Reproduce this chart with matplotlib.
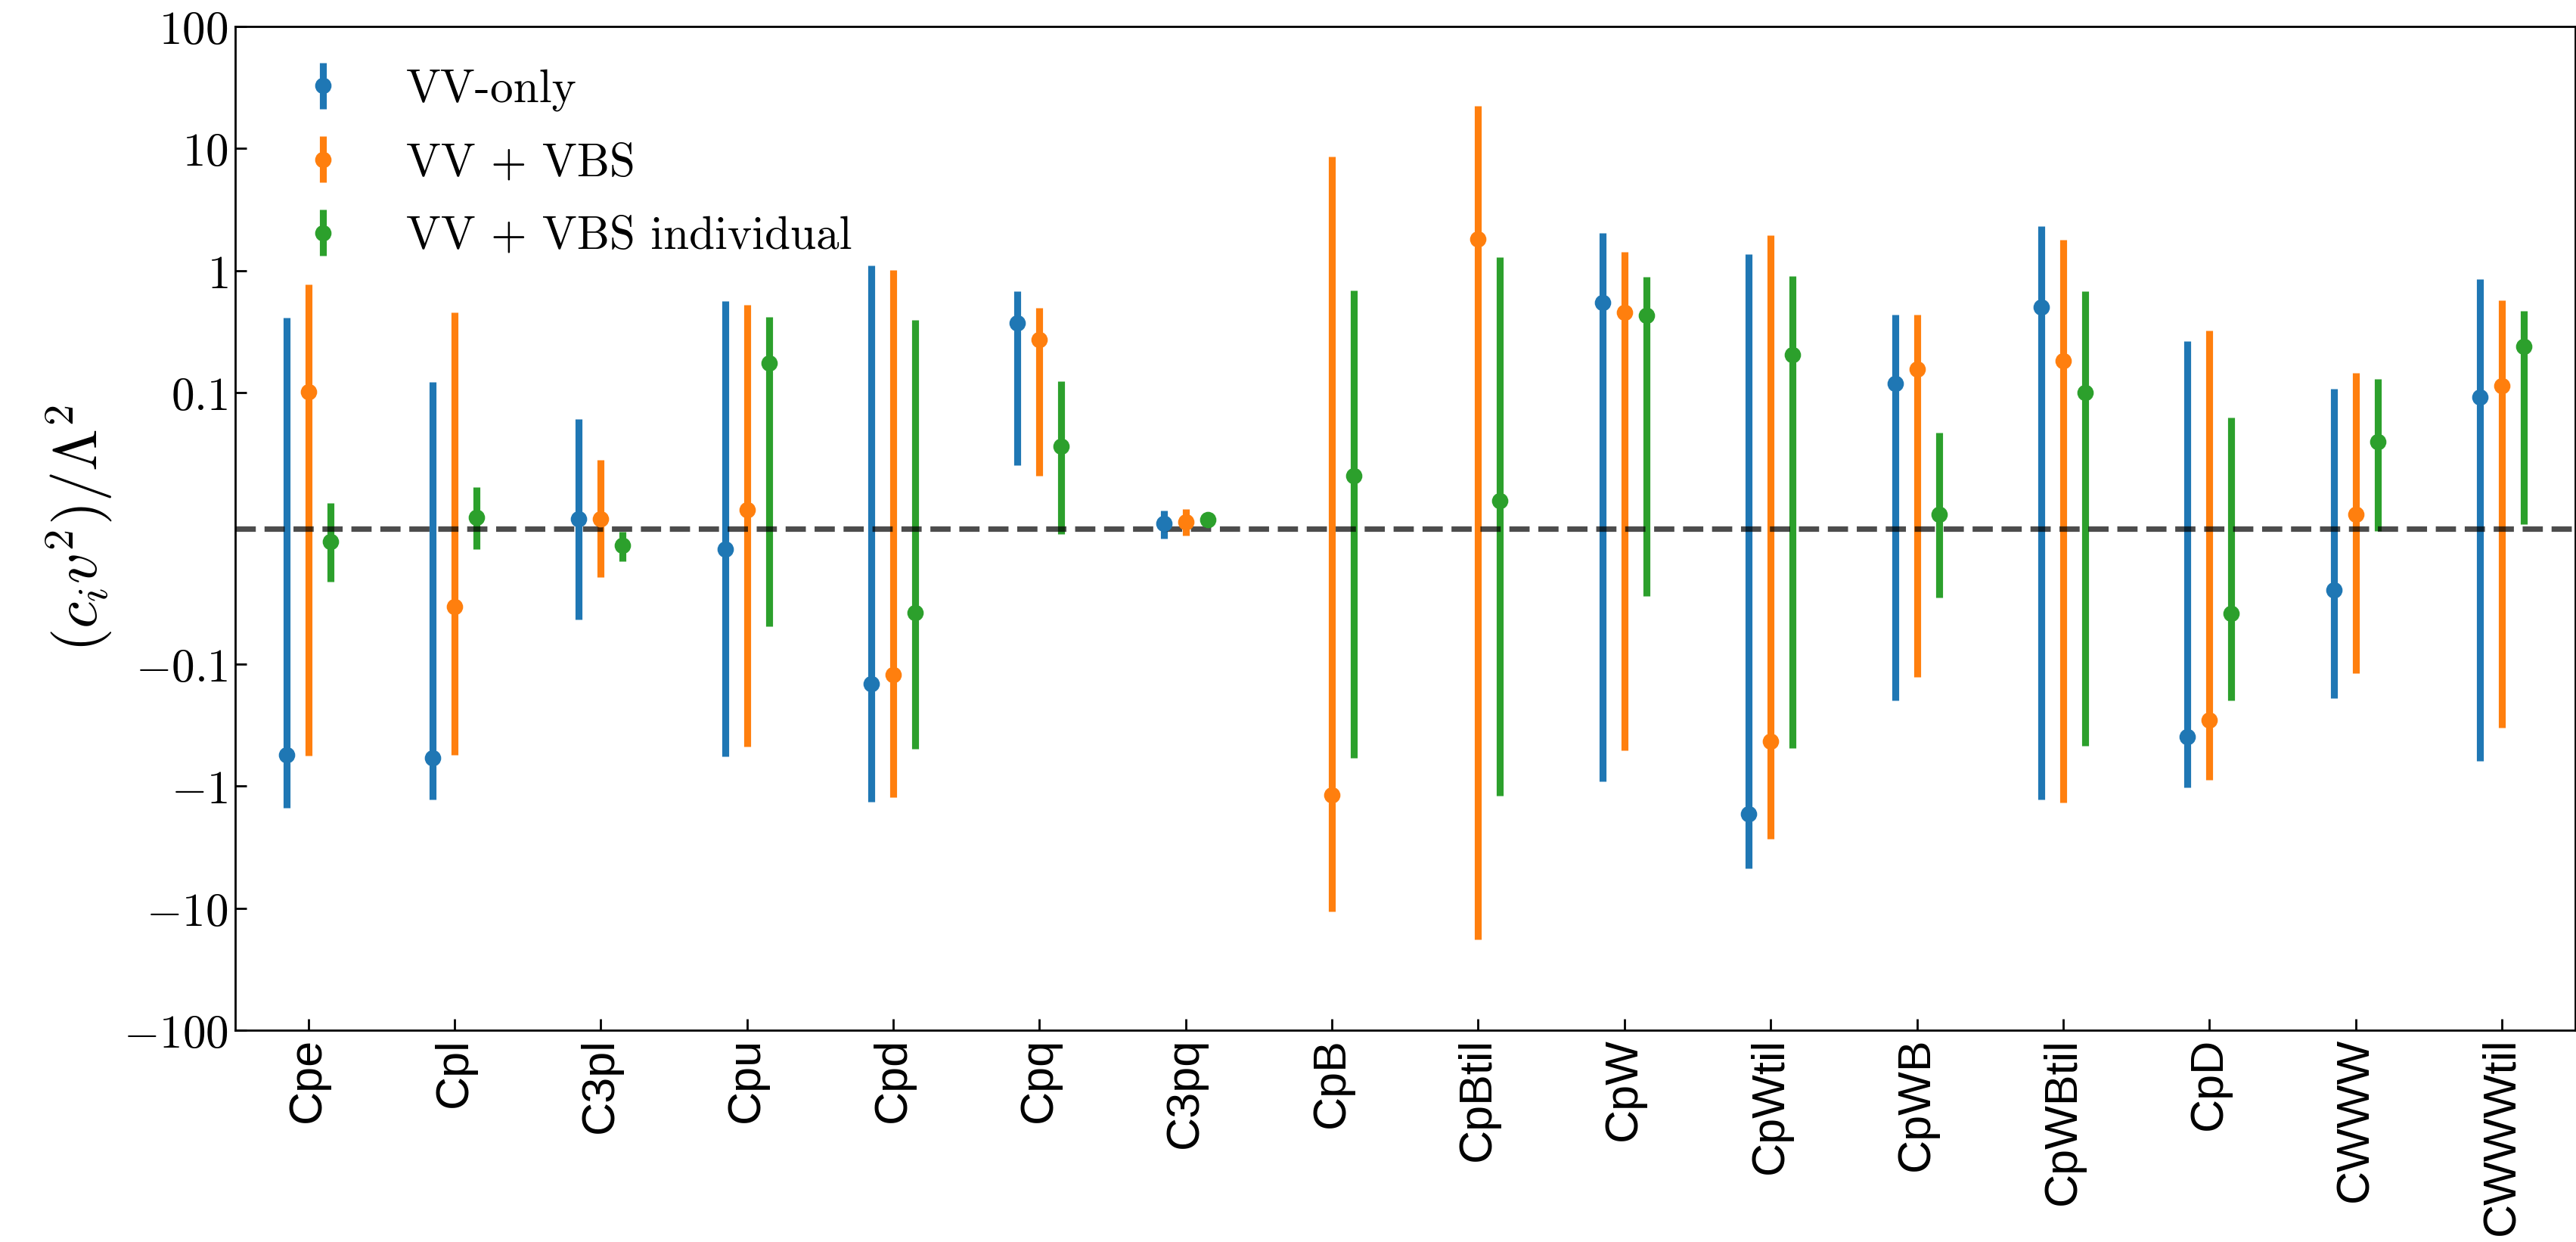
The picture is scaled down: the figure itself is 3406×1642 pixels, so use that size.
import numpy as np
import matplotlib
matplotlib.use("Agg")
import matplotlib.pyplot as plt
from matplotlib.ticker import NullLocator

plt.rcParams['mathtext.fontset'] = 'cm'
plt.rcParams['axes.unicode_minus'] = True

coeffs = ['Cpe', 'Cpl', 'C3pl', 'Cpu', 'Cpd', 'Cpq', 'C3pq', 'CpB', 'CpBtil',
          'CpW', 'CpWtil', 'CpWB', 'CpWBtil', 'CpD', 'CWWW', 'CWWWtil']

# VV-only: central value, lower and upper bound
vv_mid = [-0.552, -0.589, 0.007, -0.0153, -0.146, 0.370, 0.0037, np.nan, np.nan,
          0.549, -1.69, 0.119, 0.502, -0.395, -0.0452, 0.097]
vv_lo = [-1.51, -1.29, -0.0672, -0.572, -1.34, 0.0465, -0.0078, np.nan, np.nan,
         -0.917, -4.69, -0.199, -1.28, -1.03, -0.191, -0.618]
vv_hi = [0.412, 0.123, 0.0807, 0.563, 1.107, 0.682, 0.0131, np.nan, np.nan,
         2.04, 1.36, 0.436, 2.32, 0.266, 0.107, 0.847]

# VV + VBS
vbs_mid = [0.102, -0.0579, 0.007, 0.0136, -0.1225, 0.272, 0.0046, -1.18, 1.82,
           0.453, -0.427, 0.157, 0.183, -0.288, 0.0101, 0.1145]
vbs_lo = [-0.562, -0.557, -0.036, -0.473, -1.23, 0.039, -0.0053, -10.7, -18.1,
          -0.511, -2.71, -0.127, -1.36, -0.883, -0.119, -0.331]
vbs_hi = [0.766, 0.452, 0.0504, 0.522, 1.012, 0.496, 0.0141, 8.61, 22.4,
          1.43, 1.94, 0.436, 1.80, 0.321, 0.146, 0.571]

# VV + VBS individual
ind_mid = [-0.00965, 0.00787, -0.0128, 0.174, -0.0621, 0.0604, 0.0066, 0.0385, 0.0206,
           0.431, 0.206, 0.0101, 0.1007, -0.0626, 0.064, 0.240]
ind_lo = [-0.0393, -0.0153, -0.0242, -0.0721, -0.497, -0.0039, 0.0007, -0.587, -1.199,
          -0.0497, -0.485, -0.0512, -0.467, -0.199, -0.0018, 0.0031]
ind_hi = [0.0189, 0.0304, -0.0023, 0.420, 0.394, 0.125, 0.0116, 0.691, 1.29,
          0.891, 0.902, 0.0704, 0.682, 0.0819, 0.130, 0.471]

series = [
    ('VV-only', vv_mid, vv_lo, vv_hi, 'C0', -0.15),
    ('VV + VBS', vbs_mid, vbs_lo, vbs_hi, 'C1', 0.0),
    ('VV + VBS individual', ind_mid, ind_lo, ind_hi, 'C2', 0.15),
]

fig = plt.figure(figsize=(17.03, 8.21), dpi=200)
ax = fig.add_axes([0.0913, 0.1705, 0.9083, 0.8082])

x = np.arange(len(coeffs))
for label, mid, lo, hi, col, off in series:
    mid = np.array(mid)
    yerr = [mid - np.array(lo), np.array(hi) - mid]
    ax.errorbar(x + off, mid, yerr=yerr, fmt='o', color=col, ms=6.8,
                elinewidth=3.3, capsize=0, label=label)

ax.axhline(0, color='k', ls='--', lw=2.6, alpha=0.7)

ax.set_yscale('symlog', linthresh=0.1)
ax.set_ylim(-100, 100)
ax.set_xlim(-0.5, 15.5)
yt = [-100, -10, -1, -0.1, 0.1, 1, 10, 100]
ax.set_yticks(yt)
ax.set_yticklabels([r'$%g$' % v for v in yt], fontsize=22)
ax.yaxis.set_minor_locator(NullLocator())
ax.set_xticks(x)
ax.set_xticklabels(coeffs, rotation=90, fontsize=22, family='Liberation Sans')
ax.tick_params(direction='in', length=5.5, width=1.0)
for s in ax.spines.values():
    s.set_linewidth(1.0)

ax.set_ylabel(r'$(c_i v^2)/\Lambda^2$', fontsize=29)

ax.legend(loc='upper left', bbox_to_anchor=(0, 0.999), frameon=False,
          labelspacing=0.68, prop={'family': 'cmr10', 'size': 22})

fig.savefig('out.png', dpi=200)
